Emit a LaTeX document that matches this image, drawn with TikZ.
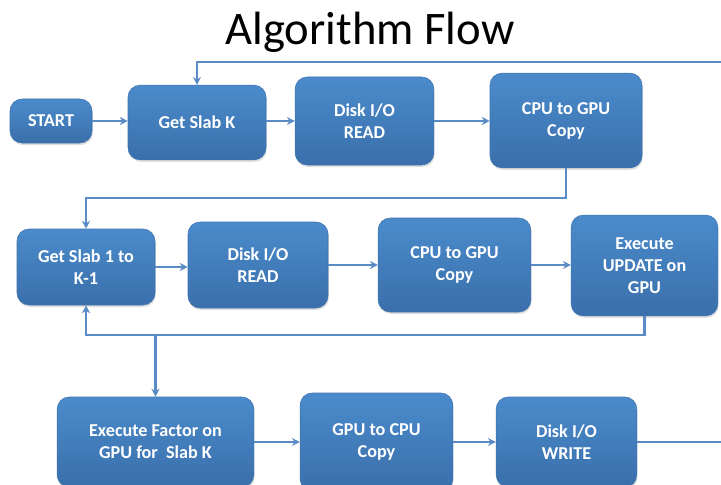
\documentclass[tikz,border=0pt]{standalone}
\usepackage{fontspec}
\setmainfont{Carlito}
\usetikzlibrary{arrows.meta,shadows,calc}
\definecolor{boxtop}{HTML}{4B8BCB}
\definecolor{boxbot}{HTML}{3A6FAB}
\definecolor{boxedge}{HTML}{3D73B0}
\definecolor{linec}{HTML}{5A8BC6}
\tikzset{
  flowbox/.style={rounded corners=9pt, top color=boxtop, bottom color=boxbot, draw=boxedge, line width=0.4pt,
    drop shadow={opacity=0.25, shadow xshift=0.6pt, shadow yshift=-1.5pt},
    text=white, align=center, inner sep=2pt,
    font=\bfseries\fontsize{13.6}{16.5}\selectfont},
  conn/.style={draw=linec, line width=1.6pt},
  arr/.style={conn, -{Stealth[length=6pt,width=6pt]}}
}
\begin{document}
\begin{tikzpicture}[x=0.75pt,y=-0.75pt]
\clip (0,0) rectangle (721,485);
\fill[white] (0,0) rectangle (721,485);
\node[anchor=base, font=\fontsize{35}{40}\selectfont] (title) at (370,45) {Algorithm Flow};
% row 1
\node[flowbox, minimum width=61.5pt, minimum height=33pt] (start) at (51,121) {START};
\node[flowbox, minimum width=103.5pt, minimum height=56pt] (gsk) at (197,122.5) {Get Slab K};
\node[flowbox, minimum width=104pt, minimum height=66pt] (dr1) at (364.5,121) {Disk I/O\\READ};
\node[flowbox, minimum width=114pt, minimum height=71pt] (cg1) at (566,120.5) {CPU to GPU\\Copy};
% row 2
\node[flowbox, minimum width=103.5pt, minimum height=57pt] (gs1) at (86,267) {Get Slab 1 to\\K-1};
\node[flowbox, minimum width=105pt, minimum height=64.5pt] (dr2) at (258,265) {Disk I/O\\READ};
\node[flowbox, minimum width=114.5pt, minimum height=70.5pt] (cg2) at (454.5,265) {CPU to GPU\\Copy};
\node[flowbox, minimum width=110pt, minimum height=75.5pt] (upd) at (644.5,265.5) {Execute\\UPDATE on\\GPU};
% row 3
\node[flowbox, minimum width=147.5pt, minimum height=67.5pt] (fac) at (155.5,442) {Execute Factor on\\GPU for\ \ Slab K};
\node[flowbox, minimum width=114.5pt, minimum height=73.5pt] (g2c) at (376.5,442) {GPU to CPU\\Copy};
\node[flowbox, minimum width=105.5pt, minimum height=67.5pt] (wr) at (566.5,442) {Disk I/O\\WRITE};
% connectors row 1
\draw[arr] (start.east) -- (start.east -| gsk.west);
\draw[arr] (gsk.east |- dr1.west) -- (dr1.west);
\draw[arr] (dr1.east) -- (dr1.east -| cg1.west);
\coordinate (topin) at (721,62);
\draw[arr] (topin) -| (gsk.north);
% row 1 -> row 2
\draw[arr] (cg1.south) |- ($(gs1.north)+(0,-31)$) -- (gs1.north);
% row 2
\draw[arr] (gs1.east) -- (gs1.east -| dr2.west);
\draw[arr] (dr2.east |- cg2.west) -- (cg2.west);
\draw[arr] (cg2.east) -- (cg2.east -| upd.west);
\draw[arr] (upd.south) |- ($(gs1.south)+(0,30)$) -- (gs1.south);
\coordinate (branch) at ($(fac.north)+(0,-62)$);
\draw[arr] (branch) -- (fac.north);
% row 3
\draw[arr] (fac.east) -- (fac.east -| g2c.west);
\draw[arr] (g2c.east) -- (g2c.east -| wr.west);
\coordinate (botout) at (721,442);
\draw[conn] (wr.east) -- (botout);
\end{tikzpicture}
\end{document}
